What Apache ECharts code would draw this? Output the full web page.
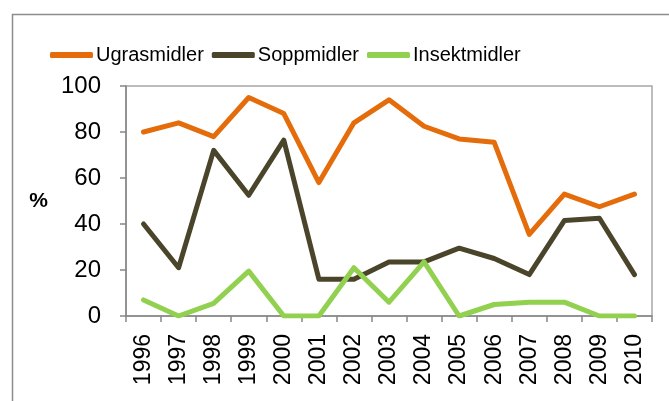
<!DOCTYPE html>
<html>
<head>
<meta charset="utf-8">
<script src="https://cdn.jsdelivr.net/npm/echarts@6/dist/echarts.min.js"></script>
<style>
  html, body { margin: 0; padding: 0; background: #fff; }
  #main { width: 669px; height: 401px; }
</style>
</head>
<body>
<div id="main"></div>
<script>
var years = ['1996','1997','1998','1999','2000','2001','2002','2003','2004','2005','2006','2007','2008','2009','2010'];
var ugrasmidler = [80, 84, 78, 95, 88, 58, 84, 94, 82.5, 77, 75.5, 35.5, 53, 47.5, 53];
var soppmidler = [40, 21, 72, 52.5, 76.5, 16, 16, 23.5, 23.5, 29.5, 25, 18, 41.5, 42.5, 18];
var insektmidler = [7, 0, 5.5, 19.5, 0, 0, 21, 6, 23.5, 0, 5, 6, 6, 0, 0];
var yTicks = [0, 20, 40, 60, 80, 100];

var font = "'Liberation Sans', sans-serif";
var chart = echarts.init(document.getElementById('main'));

function line(name, data, color) {
  return {
    name: name,
    type: 'line',
    data: data,
    symbol: 'none',
    lineStyle: { color: color, width: 5, join: 'round', cap: 'round' },
    itemStyle: { color: color }
  };
}

var option = {
  animation: false,
  textStyle: { fontFamily: font },
  graphic: [{
    type: 'rect',
    left: 10, top: 12,
    shape: { width: 700, height: 450 },
    style: { fill: 'none', stroke: '#8c8c8c', lineWidth: 1.5 },
    silent: true
  }],
  legend: {
    left: 45,
    top: 40,
    itemWidth: 43,
    itemHeight: 6,
    itemGap: 8,
    icon: 'roundRect',
    textStyle: { fontSize: 20, color: '#000', fontFamily: font, padding: [0, 0, 0, -2] },
    data: ['Ugrasmidler', 'Soppmidler', 'Insektmidler']
  },
  grid: {
    left: 126, right: 17, top: 86, bottom: 85,
    show: true, borderColor: '#a6a6a6', borderWidth: 1.5,
    containLabel: false
  },
  xAxis: {
    type: 'category',
    data: years,
    boundaryGap: true,
    axisLine: { lineStyle: { color: '#868686', width: 1.5 } },
    axisTick: { show: true, length: 6, interval: 0, lineStyle: { color: '#868686', width: 1.5 } },
    axisLabel: { rotate: 90, interval: 0, fontSize: 23, color: '#000', margin: 18, fontFamily: font },
    splitLine: { show: false }
  },
  yAxis: {
    type: 'value',
    min: 0, max: 100, interval: 20,
    name: '%',
    nameLocation: 'middle',
    nameRotate: 0,
    nameGap: 78,
    nameTextStyle: { fontSize: 21, fontWeight: 'bold', color: '#000', fontFamily: font },
    axisLine: { show: true, lineStyle: { color: '#868686', width: 1.5 } },
    axisTick: { show: true, length: 6, lineStyle: { color: '#868686', width: 1.5 } },
    axisLabel: {
      fontSize: 24, color: '#000', margin: 25, fontFamily: font,
      formatter: function (v) { return yTicks.indexOf(v) >= 0 ? String(v) : ''; }
    },
    splitLine: { show: false }
  },
  series: [
    line('Ugrasmidler', ugrasmidler, '#e46c0a'),
    line('Soppmidler', soppmidler, '#4a452a'),
    line('Insektmidler', insektmidler, '#92d050')
  ]
};
chart.setOption(option);
</script>
</body>
</html>
